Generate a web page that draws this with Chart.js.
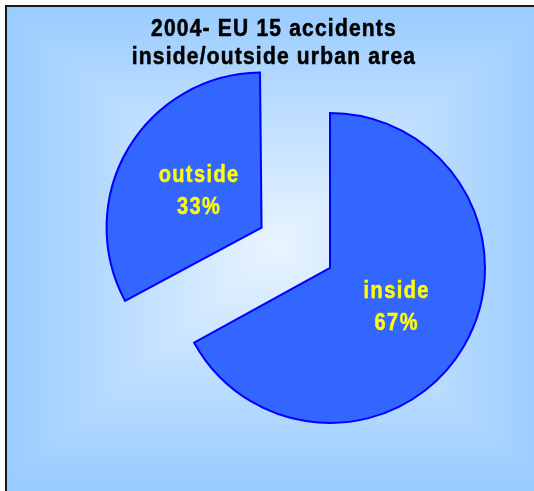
<!DOCTYPE html>
<html>
<head>
<meta charset="utf-8">
<script src="https://cdn.jsdelivr.net/npm/chart.js@4/dist/chart.umd.min.js"></script>
<style>
  html, body { margin: 0; padding: 0; background: #fff; }
  #wrap { width: 534px; height: 491px; }
</style>
</head>
<body>
<div id="wrap"><canvas id="urbanPie" width="534" height="491"></canvas></div>
<script>
const categories = ['inside', 'outside'];
const shares = [67, 33];
const titleLines = ['2004- EU 15 accidents', 'inside/outside urban area'];

// text drawn a bit taller than wide, with a hairline stroke for a heavier bold
function stretchedText(ctx, text, x, y, sy) {
  ctx.save();
  ctx.translate(x, y);
  ctx.scale(1, sy);
  ctx.fillText(text, 0, 0);
  ctx.strokeText(text, 0, 0);
  ctx.restore();
}

// rectangular "from centre" fill behind the plot, plus the frame
const backdrop = {
  id: 'backdrop',
  beforeDraw(chart) {
    const ctx = chart.ctx;
    const L = 7, T = 7, R = 545, B = 485;
    const cx = (L + R) / 2, cy = (T + B) / 2;
    ctx.save();
    ctx.fillStyle = '#fff';
    ctx.fillRect(0, 0, chart.width, chart.height);
    ctx.fillStyle = '#99ccff';
    ctx.fillRect(L, T, chart.width - L, chart.height - T);
    const sides = [
      [[L, T], [R, T], [cx, T]],
      [[R, T], [R, B], [R, cy]],
      [[R, B], [L, B], [cx, B]],
      [[L, B], [L, T], [L, cy]]
    ];
    sides.forEach(([a, b, edge]) => {
      const g = ctx.createLinearGradient(cx, cy, edge[0], edge[1]);
      g.addColorStop(0, '#eaf4ff');
      g.addColorStop(1, '#99ccff');
      ctx.beginPath();
      ctx.moveTo(cx, cy);
      ctx.lineTo(a[0], a[1]);
      ctx.lineTo(b[0], b[1]);
      ctx.closePath();
      ctx.fillStyle = g;
      ctx.strokeStyle = g;
      ctx.lineWidth = 1;
      ctx.fill();
      ctx.stroke();
    });
    ctx.fillStyle = '#1a1a1a';
    ctx.fillRect(5, 5, chart.width - 5, 2);
    ctx.fillRect(5, 5, 2, chart.height - 5);
    ctx.restore();
  }
};

// ArcElement grows a narrow offset slice by offset/4 * (1 - sin(circ));
// take that back so the pulled-out slice keeps the same radius
const keepRadius = {
  id: 'keepRadius',
  afterDatasetsUpdate(chart) {
    chart.getDatasetMeta(0).data.forEach(arc => {
      const off = (arc.options.offset || 0) / 4;
      const fix = 1 - Math.sin(Math.min(Math.PI, arc.circumference));
      arc.outerRadius -= off * fix;
    });
  }
};

const titleText = {
  id: 'titleText',
  afterDraw(chart) {
    const ctx = chart.ctx;
    ctx.save();
    ctx.font = 'bold 21px "Liberation Sans", Arial, sans-serif';
    ctx.letterSpacing = '1.2px';
    ctx.fillStyle = '#000';
    ctx.strokeStyle = '#000';
    ctx.lineWidth = 0.5;
    ctx.textAlign = 'center';
    stretchedText(ctx, titleLines[0], 274, 36, 1.1);
    stretchedText(ctx, titleLines[1], 274, 64, 1.1);
    ctx.restore();
  }
};

const sliceLabels = {
  id: 'sliceLabels',
  afterDatasetsDraw(chart) {
    const ctx = chart.ctx;
    const meta = chart.getDatasetMeta(0);
    ctx.save();
    ctx.font = 'bold 20px "Liberation Sans", Arial, sans-serif';
    ctx.letterSpacing = '1.4px';
    ctx.fillStyle = '#ffff00';
    ctx.strokeStyle = '#ffff00';
    ctx.lineWidth = 0.4;
    ctx.textAlign = 'center';
    meta.data.forEach((arc, i) => {
      const { x, y, startAngle, endAngle, outerRadius } = arc;
      const mid = (startAngle + endAngle) / 2;
      const shift = (arc.options.offset || 0) / 4;
      const d = outerRadius / 2 + shift;
      const lx = x + Math.cos(mid) * d;
      const ly = y + Math.sin(mid) * d;
      stretchedText(ctx, categories[i], lx, ly - 9, 1.15);
      stretchedText(ctx, shares[i] + '%', lx, ly + 23, 1.15);
    });
    ctx.restore();
  }
};

new Chart(document.getElementById('urbanPie'), {
  type: 'pie',
  data: {
    labels: categories,
    datasets: [{
      data: shares,
      backgroundColor: '#3366ff',
      borderColor: '#0000ff',
      borderWidth: 2,
      borderJoinStyle: 'miter',
      offset: [0, 318]
    }]
  },
  options: {
    responsive: false,
    animation: false,
    events: [],
    radius: 155,
    layout: { padding: { left: 126, right: 0, top: 45, bottom: 0 } },
    plugins: {
      legend: { display: false },
      tooltip: { enabled: false },
      title: { display: false }
    }
  },
  plugins: [backdrop, keepRadius, titleText, sliceLabels]
});
</script>
</body>
</html>
